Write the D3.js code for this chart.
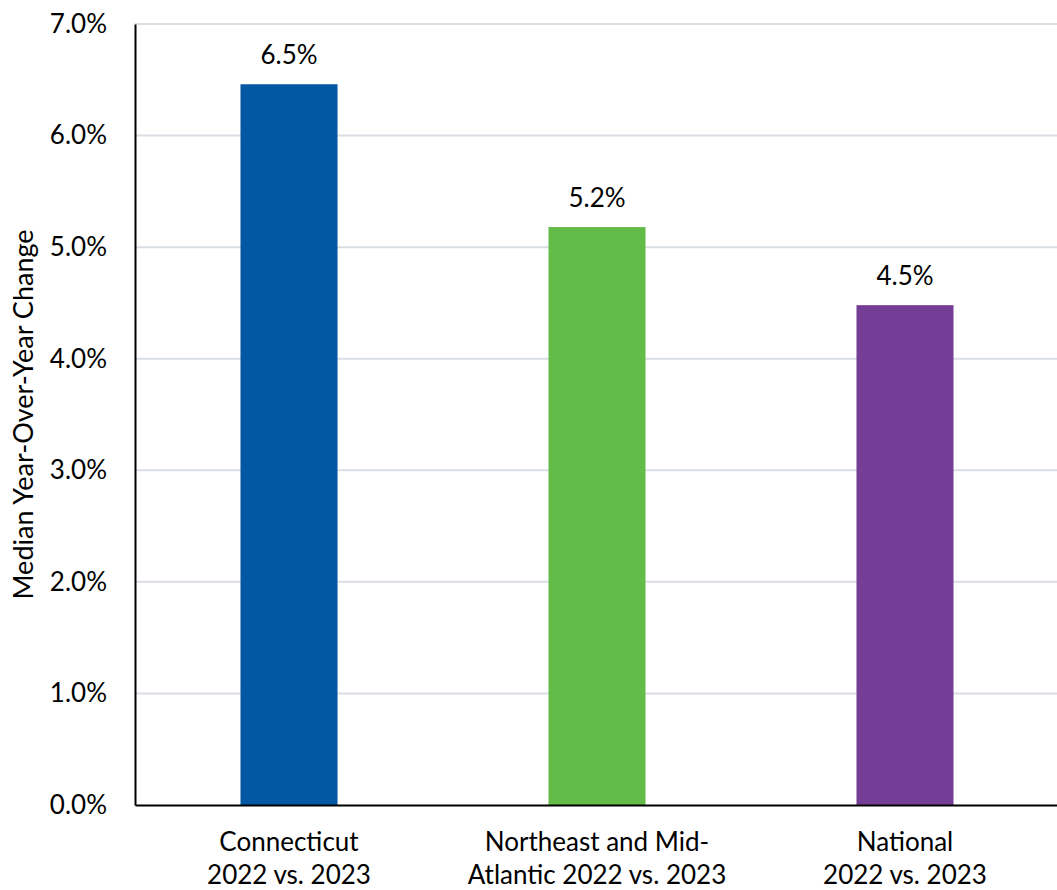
<!DOCTYPE html>
<html>
<head>
<meta charset="utf-8">
<script src="https://cdn.jsdelivr.net/npm/d3@7"></script>
<style>
  body { margin: 0; background: #fff; }
  svg { display: block; font-family: Lato, "Open Sans", sans-serif; }
</style>
</head>
<body>
<div id="chart"></div>
<script>
const categories = [
    ["Connecticut", "2022 vs. 2023"],
    ["Northeast and Mid-", "Atlantic 2022 vs. 2023"],
    ["National", "2022 vs. 2023"]
];
const values = [6.46, 5.18, 4.48];
const barColors = ["#0457a3", "#63bb48", "#753e96"];
const yTicks = [0, 1, 2, 3, 4, 5, 6, 7];
const yTitle = "Median Year-Over-Year Change";

const W = 1057, H = 890;
const margin = { top: 24, left: 135, bottom: 85 };
const width = 924, height = H - margin.top - margin.bottom;

const data = categories.map((c, i) => ({ key: c.join(" "), lines: c, value: values[i], color: barColors[i] }));

const svg = d3.select("#chart")
    .append("svg")
    .attr("width", W)
    .attr("height", H);

const g = svg.append("g")
    .attr("transform", `translate(${margin.left}, ${margin.top})`);

const x = d3.scaleBand()
    .domain(data.map(d => d.key))
    .range([0, width])
    .paddingInner(0.685)
    .paddingOuter(0.3425);

const y = d3.scaleLinear()
    .domain([0, 7])
    .range([height, 0]);

// gridlines
g.append("g")
    .selectAll("line")
    .data(yTicks.filter(t => t > 0))
    .enter()
    .append("line")
    .attr("x1", 0)
    .attr("x2", width)
    .attr("y1", d => y(d))
    .attr("y2", d => y(d))
    .attr("stroke", "#d9dee3")
    .attr("stroke-width", 2);

// y axis
const yAxis = g.append("g")
    .call(d3.axisLeft(y).tickValues(yTicks).tickSize(0).tickPadding(28).tickFormat(d => d.toFixed(1) + "%"));
yAxis.select(".domain").attr("stroke", "#000").attr("stroke-width", 2);
yAxis.selectAll("text")
    .attr("font-size", 26)
    .attr("font-family", "Lato, sans-serif")
    .attr("fill", "#000");

// bars
g.selectAll("rect.bar")
    .data(data)
    .enter()
    .append("rect")
    .attr("class", "bar")
    .attr("x", d => x(d.key))
    .attr("y", d => y(d.value))
    .attr("width", x.bandwidth())
    .attr("height", d => height - y(d.value))
    .attr("fill", d => d.color);

// value labels
g.selectAll("text.val")
    .data(data)
    .enter()
    .append("text")
    .attr("class", "val")
    .attr("x", d => x(d.key) + x.bandwidth() / 2)
    .attr("y", d => y(d.value) - 20)
    .attr("text-anchor", "middle")
    .attr("font-size", 26)
    .text(d => d.value.toFixed(1) + "%");

// x axis
const xAxis = g.append("g")
    .attr("transform", `translate(0, ${height})`)
    .call(d3.axisBottom(x).tickSize(0).tickFormat(""));
xAxis.select(".domain").attr("stroke", "#000").attr("stroke-width", 2);

g.selectAll("text.cat")
    .data(data)
    .enter()
    .append("text")
    .attr("class", "cat")
    .attr("x", d => x(d.key) + x.bandwidth() / 2)
    .attr("y", height + 46)
    .attr("text-anchor", "middle")
    .attr("font-size", 26)
    .selectAll("tspan")
    .data(d => d.lines)
    .enter()
    .append("tspan")
    .attr("x", function() { return d3.select(this.parentNode).attr("x"); })
    .attr("dy", (d, i) => i === 0 ? 0 : 33)
    .text(d => d);

// y title
svg.append("text")
    .attr("transform", `translate(33, ${margin.top + height / 2}) rotate(-90)`)
    .attr("text-anchor", "middle")
    .attr("font-size", 27)
    .text(yTitle);
</script>
</body>
</html>
